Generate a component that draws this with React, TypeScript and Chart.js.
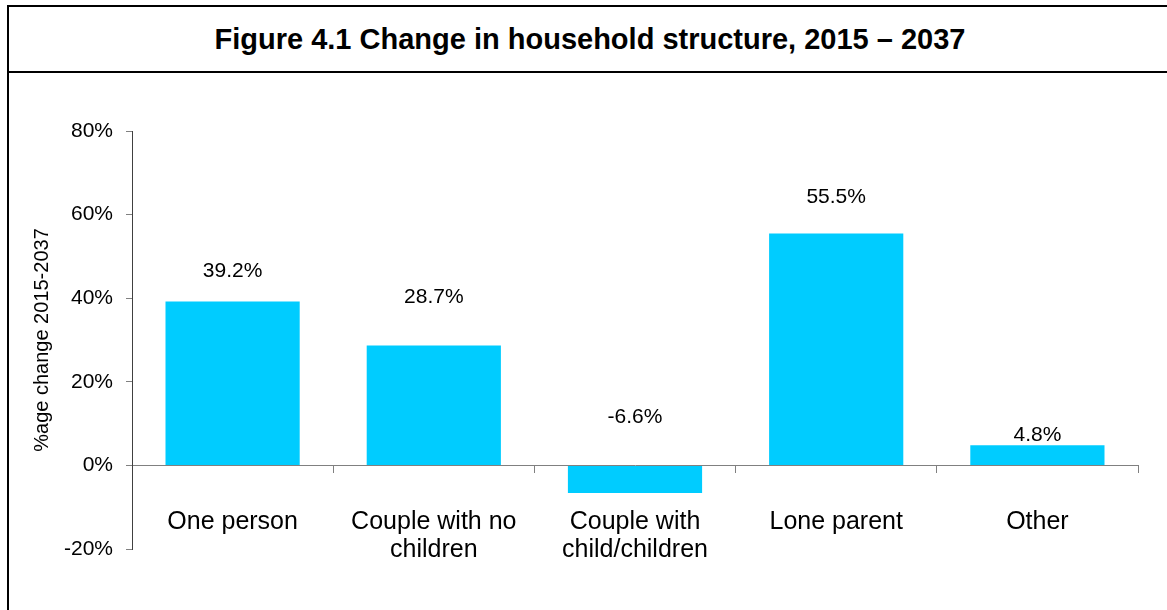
import React, { useEffect, useRef } from "react";
import { Chart, registerables } from "chart.js";

Chart.register(...registerables);

const categories: string[][] = [
  ["One person"],
  ["Couple with no", "children"],
  ["Couple with", "child/children"],
  ["Lone parent"],
  ["Other"],
];
const values: number[] = [39.2, 28.7, -6.6, 55.5, 4.8];
const valueLabels: string[] = ["39.2%", "28.7%", "-6.6%", "55.5%", "4.8%"];
const yTicks: number[] = [-20, 0, 20, 40, 60, 80];
const titleText = "Figure 4.1 Change in household structure, 2015 \u2013 2037";
const yTitle = "%age change 2015-2037";

const FONT = '"Liberation Sans", Arial, Helvetica, sans-serif';

const valueLabelPlugin = {
  id: "valueLabels",
  afterDatasetsDraw(chart: any, _args: any, opts: any) {
    const ctx = chart.ctx;
    const meta = chart.getDatasetMeta(0);
    const yScale = chart.scales.y;
    const size = opts.size || 21;
    ctx.save();
    ctx.font = `${size}px ${FONT}`;
    ctx.fillStyle = "#000";
    ctx.textAlign = "center";
    ctx.textBaseline = "alphabetic";
    meta.data.forEach((bar: any, i: number) => {
      const v = values[i];
      const anchor = v >= 0 ? bar.y : yScale.getPixelForValue(0);
      const center = anchor - opts.offsets[i];
      ctx.fillText(valueLabels[i], bar.x, center + size * 0.358);
    });
    ctx.restore();
  },
};

export default function App() {
  const canvasRef = useRef<HTMLCanvasElement | null>(null);

  useEffect(() => {
    document.body.style.margin = "0";
    const canvas = canvasRef.current;
    if (!canvas) return;
    const chart = new Chart(canvas, {
      type: "bar",
      data: {
        labels: categories as any,
        datasets: [
          {
            data: values,
            backgroundColor: "#00CCFF",
            borderWidth: 0,
            categoryPercentage: 1,
            barPercentage: 0.667,
          },
        ],
      },
      options: {
        responsive: false,
        animation: false,
        devicePixelRatio: 1,
        layout: { padding: { left: 0, top: 131, right: 29, bottom: 61 } },
        plugins: {
          legend: { display: false },
          tooltip: { enabled: false },
          title: { display: false },
          valueLabels: { offsets: [32, 50, 50, 38, 12], size: 21 },
        } as any,
        scales: {
          x: {
            position: { y: 0 } as any,
            offset: true,
            z: 1,
            grid: {
              display: true,
              drawOnChartArea: false,
              drawTicks: true,
              tickLength: 7,
              color: "#808080",
              offset: true,
            },
            border: { display: true, color: "#808080", width: 1 },
            ticks: {
              font: { size: 25, family: FONT, lineHeight: 1.14 },
              color: "#000",
              padding: 35,
              maxRotation: 0,
              minRotation: 0,
              autoSkip: false,
            },
          },
          y: {
            min: yTicks[0],
            max: yTicks[yTicks.length - 1],
            afterBuildTicks: (s: any) => {
              s.ticks = yTicks.map((value) => ({ value }));
            },
            afterFit: (s: any) => {
              s.width = 132;
            },
            grid: {
              drawOnChartArea: false,
              drawTicks: true,
              tickLength: 6,
              color: "#808080",
            },
            border: { display: true, color: "#404040", width: 1 },
            ticks: {
              callback: (v: any) => `${v}%`,
              font: { size: 21, family: FONT },
              color: "#000",
              padding: 13,
            },
            title: {
              display: true,
              text: yTitle,
              font: { size: 20, family: FONT },
              color: "#000",
              padding: { top: 30, bottom: 0 },
            },
          },
        },
      },
      plugins: [valueLabelPlugin],
    });
    return () => chart.destroy();
  }, []);

  return (
    <div
      style={{
        position: "relative",
        width: 1167,
        height: 610,
        overflow: "hidden",
        background: "#fff",
      }}
    >
      <div
        style={{
          position: "absolute",
          left: 7,
          top: 5,
          width: 1166,
          height: 700,
          border: "2px solid #000",
          boxSizing: "border-box",
        }}
      >
        <div
          style={{
            height: 64,
            borderBottom: "2px solid #000",
            display: "flex",
            alignItems: "center",
            justifyContent: "center",
            fontFamily: FONT,
            fontWeight: "bold",
            fontSize: 29,
            color: "#000",
            whiteSpace: "nowrap",
          }}
        >
          {titleText}
        </div>
      </div>
      <canvas
        ref={canvasRef}
        width={1167}
        height={610}
        style={{ position: "absolute", left: 0, top: 0, width: 1167, height: 610 }}
      />
    </div>
  );
}
